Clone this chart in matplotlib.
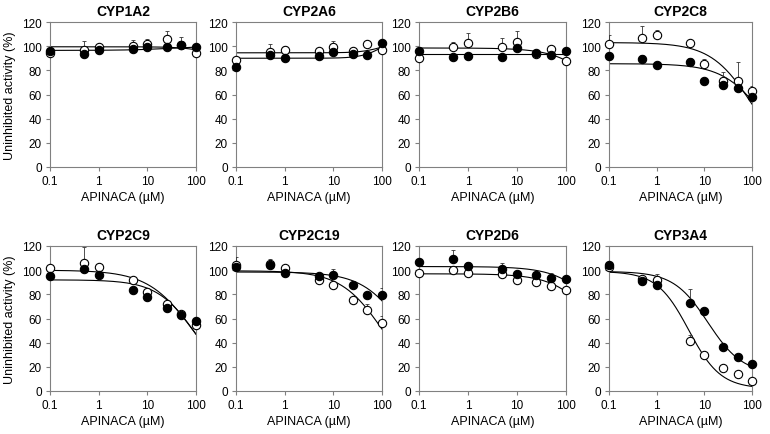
import numpy as np
import matplotlib.pyplot as plt

plt.rcParams["font.family"] = ["Liberation Sans", "DejaVu Sans"]

conc = [0.1, 0.5, 1, 5, 10, 25, 50, 100]
enzymes = ["CYP1A2", "CYP2A6", "CYP2B6", "CYP2C8",
           "CYP2C9", "CYP2C19", "CYP2D6", "CYP3A4"]

# mean % activity, filled circles
filled = [
    [95.6, 93.4, 97.0, 97.5, 98.9, 99.2, 101.0, 99.0],
    [82.5, 92.8, 90.0, 92.2, 95.0, 93.6, 93.0, 102.5],
    [95.8, 91.4, 92.2, 90.9, 98.3, 94.2, 92.5, 95.8],
    [92.2, 89.5, 84.5, 87.3, 71.5, 67.9, 65.1, 58.2],
    [95.2, 100.7, 96.0, 83.3, 77.8, 69.0, 62.6, 57.9],
    [102.9, 104.0, 97.4, 95.2, 96.0, 87.7, 79.4, 79.2],
    [107.0, 109.5, 103.4, 101.2, 96.5, 96.0, 93.8, 92.4],
    [104.3, 91.0, 87.4, 73.1, 66.2, 36.4, 28.4, 22.6],
]
filled_err = [
    [0, 0, 0, 0, 0, 0, 0, 0],
    [0, 0, 0, 0, 0, 0, 0, 0],
    [0, 0, 0, 0, 0, 2.2, 0, 2.8],
    [0, 3.3, 1.5, 2.7, 0, 0, 0, 0],
    [0, 0, 0, 0, 0, 0, 0, 0],
    [0, 0, 0, 2.8, 5.0, 0, 0, 6.3],
    [0, 7.5, 3.6, 4.8, 0, 2.8, 4.2, 0],
    [0, 0, 0, 11.0, 0, 0, 0, 0],
]

# mean % activity, open circles
opened = [
    [94.2, 97.0, 99.7, 100.5, 102.0, 105.8, 101.0, 94.5],
    [88.6, 95.0, 97.0, 95.6, 99.4, 95.8, 101.7, 97.2],
    [90.0, 99.2, 102.5, 99.7, 103.3, 93.6, 97.5, 87.5],
    [101.7, 106.6, 109.4, 102.5, 85.0, 70.9, 70.9, 62.6],
    [102.0, 106.2, 102.9, 92.1, 82.2, 72.3, 63.4, 54.3],
    [104.0, 104.8, 101.5, 91.6, 87.7, 75.0, 67.0, 56.6],
    [97.9, 99.9, 97.4, 96.5, 92.1, 90.5, 86.9, 83.9],
    [102.6, 92.4, 91.9, 41.1, 29.5, 18.8, 14.3, 8.3],
]
opened_err = [
    [0, 7.0, 2.5, 4.5, 4.0, 7.0, 7.0, 0],
    [0, 6.7, 3.5, 0, 4.6, 2.2, 0, 0],
    [0, 4.0, 8.5, 7.0, 9.2, 0, 0, 0],
    [7.2, 9.7, 4.2, 1.5, 4.5, 7.5, 15.8, 4.4],
    [0, 13.2, 0, 0, 0, 0, 0, 0],
    [7.0, 4.2, 0, 0, 0, 0, 5.3, 5.4],
    [0, 0, 0, 0, 0, 0, 0, 0],
    [2.5, 0, 4.7, 5.2, 0, 0, 0, 0],
]

# fitted curve parameters: top, bottom, IC50, hill
fit_filled = [
    (96.5, 100, 30, 1), (90, 108, 100, 2), (93.2, 93.2, 100, 1), (85.5, 0, 180, 1),
    (92, 0, 104, 1.07), (98.5, 0, 312, 1), (103, 0, 770, 1), (99, 14, 12, 1.2),
]
fit_open = [
    (99.5, 90, 200, 1.5), (94.5, 104, 100, 2), (98.5, 0, 840, 1), (103, 0, 102, 1),
    (100, 0, 88, 0.93), (99.5, 0, 106, 1), (97, 0, 555, 1), (99, 2, 4.7, 1.3),
]


def curve(x, top, bottom, ic50, hill):
    return bottom + (top - bottom) / (1 + (x / ic50) ** hill)


W, H = 770, 435
fig = plt.figure(figsize=(W / 100, H / 100), dpi=100)
lefts = [50, 236, 419, 609]
widths = [146, 146, 147, 143]
tops = [23, 247]
ah = 145

xs = np.logspace(-1, 2, 200)
gray = "#808080"

for i, name in enumerate(enzymes):
    r, c = divmod(i, 4)
    ax = fig.add_axes([lefts[c] / W, 1 - (tops[r] + ah) / H, widths[c] / W, ah / H])
    ax.set_xscale("log")

    ax.plot(xs, curve(xs, *fit_open[i]), color="black", lw=0.8, zorder=2)
    ax.plot(xs, curve(xs, *fit_filled[i]), color="black", lw=0.8, zorder=2)

    for vals, err, face in [(opened[i], opened_err[i], "white"),
                            (filled[i], filled_err[i], "black")]:
        ax.errorbar(conc, vals, yerr=[np.zeros(len(err)), err], fmt="none",
                    ecolor="#333333", elinewidth=0.6, capsize=1.5,
                    capthick=0.6, zorder=3)
        ax.plot(conc, vals, "o", ms=6, mfc=face, mec="black", mew=0.8,
                zorder=4, clip_on=False)

    ax.set_xlim(0.1, 100)
    ax.set_ylim(0, 120)
    ax.set_xticks([0.1, 1, 10, 100])
    ax.set_xticklabels(["0.1", "1", "10", "100"])
    ax.xaxis.set_minor_locator(plt.NullLocator())
    ax.set_yticks(range(0, 121, 20))
    for s in ax.spines.values():
        s.set_color(gray)
        s.set_linewidth(0.8)
    ax.tick_params(direction="out", length=3, width=0.8, color=gray,
                   labelsize=8.5, pad=3)
    ax.set_title(name, fontsize=10, fontweight="bold", pad=5)
    ax.set_xlabel("APINACA (\u00b5M)", fontsize=9, labelpad=3)
    if c == 0:
        ax.set_ylabel("Uninhibited activity (%)", fontsize=9, labelpad=4)

fig.savefig("out.png", dpi=100)
